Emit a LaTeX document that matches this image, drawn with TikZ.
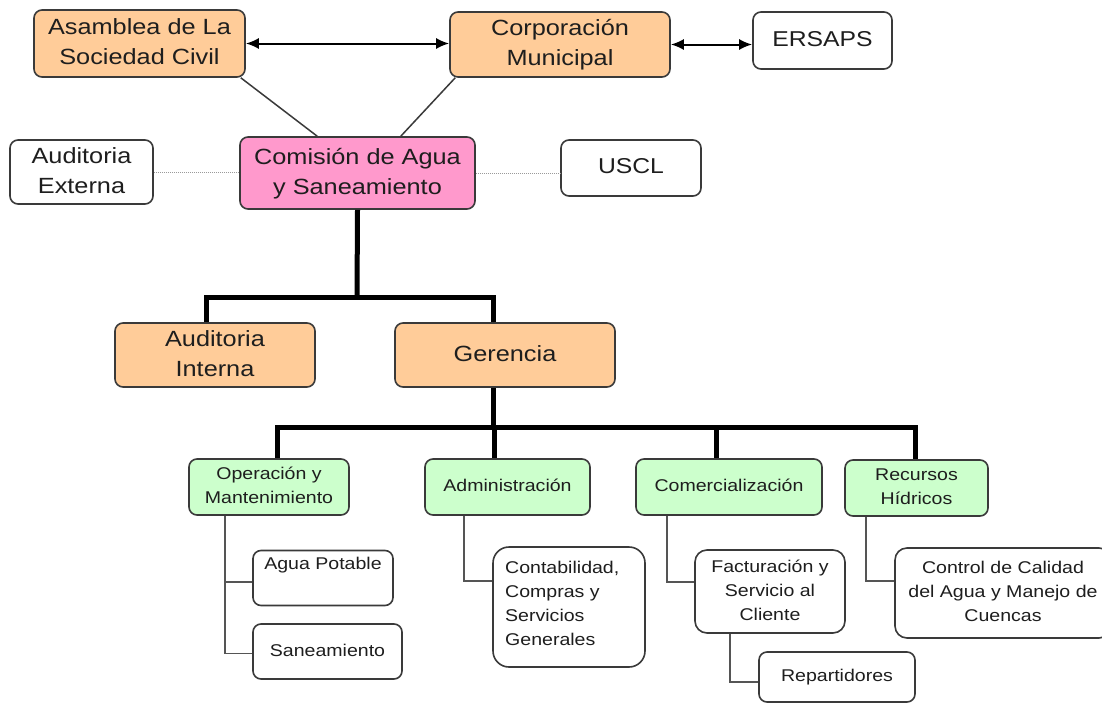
\documentclass[tikz,border=0pt]{standalone}
\usepackage{fontspec}
\setmainfont{Liberation Sans}
\usepackage{graphicx}
\usetikzlibrary{arrows.meta,calc}
\definecolor{orangefill}{HTML}{FFCC99}
\definecolor{pinkfill}{HTML}{FF99CC}
\definecolor{greenfill}{HTML}{CCFFCC}
\definecolor{boxline}{HTML}{3A3A3A}
\definecolor{txt}{HTML}{1E1E1E}
\definecolor{thinline}{HTML}{555555}
\definecolor{dotline}{HTML}{9A9A9A}
\newcommand\hs[1]{\scalebox{1.15}[1]{#1}}
\newcommand\bigtxt[1]{\hs{\fontsize{22}{30}\selectfont\begin{tabular}{@{}c@{}}#1\end{tabular}}}
\newcommand\midtxt[1]{\hs{\fontsize{21.5}{29}\selectfont\begin{tabular}{@{}c@{}}#1\end{tabular}}}
\newcommand\smtxt[1]{\hs{\fontsize{17}{24}\selectfont\begin{tabular}{@{}c@{}}#1\end{tabular}}}
\newcommand\smtxtl[1]{\hs{\fontsize{17}{24}\selectfont\begin{tabular}{@{}l@{}}#1\end{tabular}}}
\begin{document}
\begin{tikzpicture}[x=1pt,y=-1pt,
  box/.style={draw=boxline, line width=1.6pt, rounded corners=8pt, inner sep=0pt, text=txt, rectangle},
  orangebox/.style={box, fill=orangefill},
  pinkbox/.style={box, fill=pinkfill},
  greenbox/.style={box, fill=greenfill},
  whitebox/.style={box, fill=white},
  plaintext/.style={inner sep=0pt, text=txt},
  bus/.style={line width=5pt, black},
  thinconn/.style={line width=1.5pt, draw=thinline},
  dotconn/.style={line width=1pt, draw=dotline, densely dotted},
  dblarrow/.style={line width=2pt, black, {Latex[length=13pt,width=11pt]}-{Latex[length=13pt,width=11pt]}}
]
\useasboundingbox (0,0) rectangle (1102,704);
\clip (0,0) rectangle (1102,704);
\fill[white] (0,0) rectangle (1102,704);

% top level
\node[orangebox, minimum width=211pt, minimum height=67pt] (asam) at (139.5,43.5) {\bigtxt{Asamblea de La\\Sociedad Civil}};
\node[orangebox, minimum width=220pt, minimum height=65pt] (corp) at (560,44.5) {\bigtxt{Corporación\\Municipal}};
\node[whitebox, minimum width=139pt, minimum height=57pt] (ersaps) at (822.5,40.5) {\midtxt{ERSAPS}};
\node[pinkbox, minimum width=235pt, minimum height=72pt] (com) at (357.5,173) {\bigtxt{Comisión de Agua\\y Saneamiento}};
\node[whitebox, minimum width=143pt, minimum height=64pt] (audext) at (81.5,172) {\bigtxt{Auditoria\\Externa}};
\node[whitebox, minimum width=140pt, minimum height=56pt] (uscl) at (631,168) {\midtxt{USCL}};

% second level
\node[orangebox, minimum width=200pt, minimum height=64pt] (audint) at (215,355) {\bigtxt{Auditoria\\Interna}};
\node[orangebox, minimum width=220pt, minimum height=64pt] (ger) at (505,355) {\bigtxt{Gerencia}};

% third level
\node[greenbox, minimum width=160pt, minimum height=56pt] (oper) at (269,487) {\smtxt{Operación y\\Mantenimiento}};
\node[greenbox, minimum width=165pt, minimum height=56pt] (admin) at (507.5,487) {\smtxt{Administración}};
\node[greenbox, minimum width=186pt, minimum height=56pt] (comer) at (729,487) {\smtxt{Comercialización}};
\node[greenbox, minimum width=143pt, minimum height=56pt] (recur) at (916.5,488) {\smtxt{Recursos\\Hídricos}};

% fourth level
\node[whitebox, minimum width=140pt, minimum height=55pt] (agua) at (323,578) {};
\node[plaintext] (aguatxt) at (323,565) {\smtxt{Agua Potable}};
\node[whitebox, minimum width=149pt, minimum height=55pt] (sanea) at (327.5,651.5) {\smtxt{Saneamiento}};
\node[whitebox, minimum width=152pt, minimum height=120pt, rounded corners=16pt] (conta) at (569,607) {};
\node[plaintext, anchor=west] (contatxt) at (505,605) {\smtxtl{Contabilidad,\\Compras y\\Servicios\\Generales}};
\node[whitebox, minimum width=150pt, minimum height=83pt, rounded corners=12pt] (fact) at (770,591.5) {\smtxt{Facturación y\\Servicio al\\Cliente}};
\node[whitebox, minimum width=156pt, minimum height=50pt] (repart) at (837,677) {\smtxt{Repartidores}};
\node[whitebox, minimum width=216pt, minimum height=90pt, rounded corners=12pt] (control) at (1003,593) {\smtxt{Control de Calidad\\del Agua y Manejo de\\Cuencas}};

% arrows top
\draw[dblarrow] (asam.east) -- (asam.east -| corp.west);
\draw[dblarrow] (corp.east) -- (corp.east -| ersaps.west);

% diagonal lines
\draw[line width=1.5pt, draw=boxline] ([xshift=-5pt]asam.south east) -- ([xshift=78pt]com.north west);
\draw[line width=1.5pt, draw=boxline] ([xshift=6pt]corp.south west) -- ([xshift=-75pt]com.north east);

% dotted
\draw[dotconn] (audext.east) -- (audext.east -| com.west);
\draw[dotconn] (com.east) -- (com.east -| uscl.west);

% bus 1
\coordinate (b1) at (357,297);
\coordinate (ai) at ([xshift=-9pt]audint.north);
\coordinate (gn) at ([xshift=-12pt]ger.north);
\draw[bus] (com.south) -- (b1);
\draw[bus] (ai) |- (b1) -| (gn);

% bus 2
\coordinate (gs) at ([xshift=-12pt]ger.south);
\coordinate (b2) at (493,427);
\coordinate (op) at ([xshift=8pt]oper.north);
\coordinate (ad) at ([xshift=-13.5pt]admin.north);
\coordinate (cm) at ([xshift=-13pt]comer.north);
\coordinate (rc) at ([xshift=-1.5pt]recur.north);
\draw[bus] (gs) -- (b2);
\draw[bus] (op) |- (b2) -| (rc);
\draw[bus] (ad) -- (ad |- b2);
\draw[bus] (cm) -- (cm |- b2);

% thin connectors
\coordinate (o1) at ([xshift=37pt]oper.south west);
\coordinate (aw) at ([yshift=-4pt]agua.west);
\draw[thinconn] (o1) |- ([yshift=-2pt]sanea.west);
\draw[thinconn] (o1 |- aw) -- (aw);
\coordinate (a1) at ([xshift=40pt]admin.south west);
\draw[thinconn] (a1) |- ([yshift=26pt]conta.west);
\coordinate (c1) at ([xshift=32pt]comer.south west);
\draw[thinconn] (c1) |- ([yshift=9.5pt]fact.west);
\coordinate (f1) at ([xshift=36pt]fact.south west);
\draw[thinconn] (f1) |- ([yshift=-5pt]repart.west);
\coordinate (r1) at ([xshift=22pt]recur.south west);
\draw[thinconn] (r1) |- ([yshift=12pt]control.west);
\end{tikzpicture}
\end{document}
